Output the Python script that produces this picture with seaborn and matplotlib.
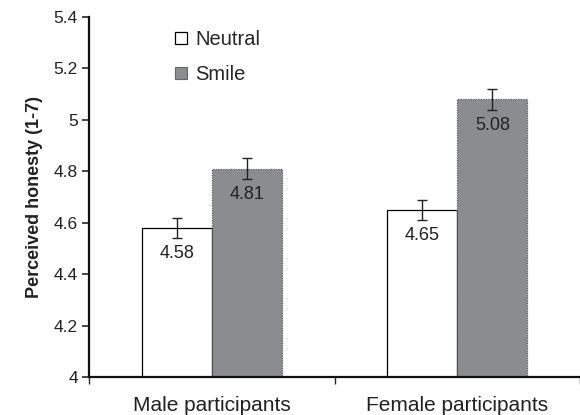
import matplotlib
matplotlib.use("Agg")
import matplotlib.pyplot as plt
import seaborn as sns
import pandas as pd
from matplotlib.lines import Line2D

categories = ["Male participants", "Female participants"]
conditions = ["Neutral", "Smile"]
neutral_vals = [4.58, 4.65]
smile_vals = [4.81, 5.08]
neutral_err = [0.04, 0.04]
smile_err = [0.04, 0.04]
yticks = [4, 4.2, 4.4, 4.6, 4.8, 5, 5.2, 5.4]
ytick_labels = ["4", "4.2", "4.4", "4.6", "4.8", "5", "5.2", "5.4"]

df = pd.DataFrame({
    "group": categories * 2,
    "condition": ["Neutral"] * 2 + ["Smile"] * 2,
    "value": neutral_vals + smile_vals,
    "err": neutral_err + smile_err,
})

sns.set_style("white")
plt.rcParams["font.family"] = ["Liberation Sans", "DejaVu Sans"]

fig = plt.figure(figsize=(5.8, 4.15), dpi=100)
ax = fig.add_axes([89 / 580, 1 - 377 / 415, 1 - 89 / 580, (377 - 17) / 415])

colors = {"Neutral": "white", "Smile": "#8b8c8f"}
sns.barplot(data=df, x="group", y="value", hue="condition", order=categories,
            hue_order=conditions, palette=colors, errorbar=None, width=0.572,
            ax=ax, legend=False, saturation=1)

edge = {"Neutral": ("black", "solid"), "Smile": ("#555555", (0, (1, 1)))}
for cont, cond in zip(ax.containers, conditions):
    vals = df[df.condition == cond].set_index("group").loc[categories]
    for bar, v, e in zip(cont.patches, vals["value"], vals["err"]):
        bar.set_edgecolor(edge[cond][0])
        bar.set_linestyle(edge[cond][1])
        bar.set_linewidth(0.9)
        xc = bar.get_x() + bar.get_width() / 2
        ax.errorbar(xc, v, yerr=e, fmt="none", ecolor="#222222", elinewidth=1.0,
                    capsize=3.5, capthick=1.0, zorder=5)
        ax.annotate(f"{v:.2f}", (xc, v), xytext=(0, -12.5), textcoords="offset points",
                    ha="center", va="top", fontsize=13, color="#222222", zorder=6)

ax.set_ylim(4, 5.4)
ax.set_xlim(-0.5, 1.5)
ax.set_yticks(yticks)
ax.set_yticklabels(ytick_labels, fontsize=12.5, color="#222222")
ax.set_xticks([0, 1])
ax.set_xticklabels(categories, fontsize=15, color="#222222")
ax.set_xticks([-0.5, 0.5, 1.5], minor=True)
ax.tick_params(axis="x", which="major", length=0, pad=14)
ax.tick_params(axis="x", which="minor", length=5, width=1, direction="out", bottom=True)
ax.tick_params(axis="y", which="major", length=5, width=1.2, direction="out", left=True, pad=3)
ax.set_xlabel("")
ax.set_ylabel("Perceived honesty (1-7)", fontsize=13, fontweight="bold", labelpad=8,
              color="#222222")

for s in ["top", "right"]:
    ax.spines[s].set_visible(False)
for s in ["left", "bottom"]:
    ax.spines[s].set_linewidth(1.6)
    ax.spines[s].set_color("#111111")

handles = [
    Line2D([], [], marker="s", linestyle="none", markersize=9, markerfacecolor="white",
           markeredgecolor="black", markeredgewidth=0.9),
    Line2D([], [], marker="s", linestyle="none", markersize=9, markerfacecolor="#8b8c8f",
           markeredgecolor="#666666", markeredgewidth=0.8),
]
ax.legend(handles, conditions, loc="upper left", bbox_to_anchor=(0.155, 0.985),
          frameon=False, fontsize=14.5, handlelength=0.8, handletextpad=0.3,
          labelspacing=0.75, borderaxespad=0)

fig.savefig("out.png", dpi=100)
